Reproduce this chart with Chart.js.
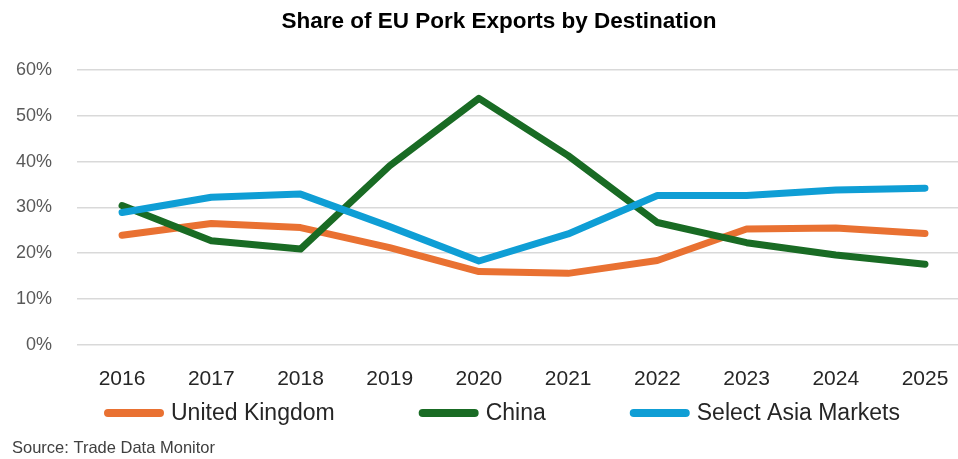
<!DOCTYPE html>
<html>
<head>
<meta charset="utf-8">
<script src="https://cdn.jsdelivr.net/npm/chart.js@4.4.1/dist/chart.umd.min.js"></script>
<style>
  html, body { margin: 0; padding: 0; background: #fff; }
</style>
</head>
<body>
<canvas id="chart" width="958" height="459"></canvas>
<script>
const years = [2016, 2017, 2018, 2019, 2020, 2021, 2022, 2023, 2024, 2025];
const ukShare = [23.9, 26.5, 25.6, 21.2, 16.0, 15.6, 18.4, 25.3, 25.5, 24.3];
const chinaShare = [30.4, 22.7, 20.9, 39.1, 53.8, 41.3, 26.7, 22.3, 19.6, 17.6];
const asiaShare = [28.9, 32.2, 32.9, 25.8, 18.3, 24.2, 32.6, 32.6, 33.8, 34.2];
const yTicks = [0, 10, 20, 30, 40, 50, 60];

const seriesNames = ['United Kingdom', 'China', 'Select Asia Markets'];
const seriesColors = ['#E97132', '#196B24', '#0F9ED5'];

const FONT = "'Liberation Sans', Arial, sans-serif";
Chart.defaults.font.family = FONT;

const toPoints = vals => vals.map((v, i) => ({ x: years[i], y: v }));

// title, legend and source note (drawn by hand so they sit where the original has them)
const notes = {
  id: 'notes',
  afterDraw(chart) {
    const ctx = chart.ctx;
    ctx.save();
    ctx.textBaseline = 'middle';

    ctx.font = 'bold 22.5px ' + FONT;
    ctx.fillStyle = '#000';
    ctx.textAlign = 'center';
    ctx.fillText('Share of EU Pork Exports by Destination', 499, 22);

    ctx.textAlign = 'left';
    ctx.font = '23px ' + FONT;
    const barW = 60, gap = 7, spacing = 84, y = 413;
    const widths = seriesNames.map(n => ctx.measureText(n).width);
    const total = widths.reduce((a, w) => a + barW + gap + w, 0) + spacing * (seriesNames.length - 1);
    let x = 502 - total / 2;
    seriesNames.forEach((name, i) => {
      ctx.strokeStyle = seriesColors[i];
      ctx.lineWidth = 8;
      ctx.lineCap = 'round';
      ctx.beginPath();
      ctx.moveTo(x + 4, y);
      ctx.lineTo(x + barW - 4, y);
      ctx.stroke();
      ctx.fillStyle = '#262626';
      ctx.fillText(name, x + barW + gap, y + 1);
      x += barW + gap + widths[i] + spacing;
    });

    ctx.font = '16.5px ' + FONT;
    ctx.fillStyle = '#404040';
    ctx.textBaseline = 'alphabetic';
    ctx.fillText('Source: Trade Data Monitor', 12, 453);
    ctx.restore();
  }
};

new Chart(document.getElementById('chart'), {
  type: 'line',
  data: {
    datasets: seriesNames.map((name, i) => ({
      label: name,
      data: toPoints([ukShare, chinaShare, asiaShare][i]),
      borderColor: seriesColors[i],
      backgroundColor: seriesColors[i],
      borderWidth: 7,
      borderCapStyle: 'round',
      borderJoinStyle: 'round',
      pointRadius: 0,
      tension: 0,
      order: 3 - i
    }))
  },
  options: {
    responsive: false,
    animation: false,
    layout: { padding: { left: 12, right: 0, top: 70, bottom: 45 } },
    plugins: {
      legend: { display: false },
      tooltip: { enabled: false },
      title: { display: false }
    },
    scales: {
      x: {
        type: 'linear',
        min: 2015.495,
        max: 2025.37,
        afterBuildTicks: axis => { axis.ticks = years.map(v => ({ value: v })); },
        afterFit: axis => { axis.paddingLeft = 0; axis.paddingRight = 0; },
        grid: { display: false, drawTicks: false },
        border: { display: false },
        ticks: {
          color: '#262626',
          font: { size: 21 },
          padding: 22,
          autoSkip: false,
          maxRotation: 0,
          callback: v => String(v)
        }
      },
      y: {
        min: 0,
        max: 60,
        afterBuildTicks: axis => { axis.ticks = yTicks.map(v => ({ value: v })); },
        afterFit: axis => { axis.width = 65; },
        grid: { color: '#d9d9d9', lineWidth: 1.5, drawTicks: false },
        border: { display: false },
        ticks: {
          color: '#595959',
          font: { size: 18 },
          padding: 25,
          callback: v => v + '%'
        }
      }
    }
  },
  plugins: [notes]
});
</script>
</body>
</html>
